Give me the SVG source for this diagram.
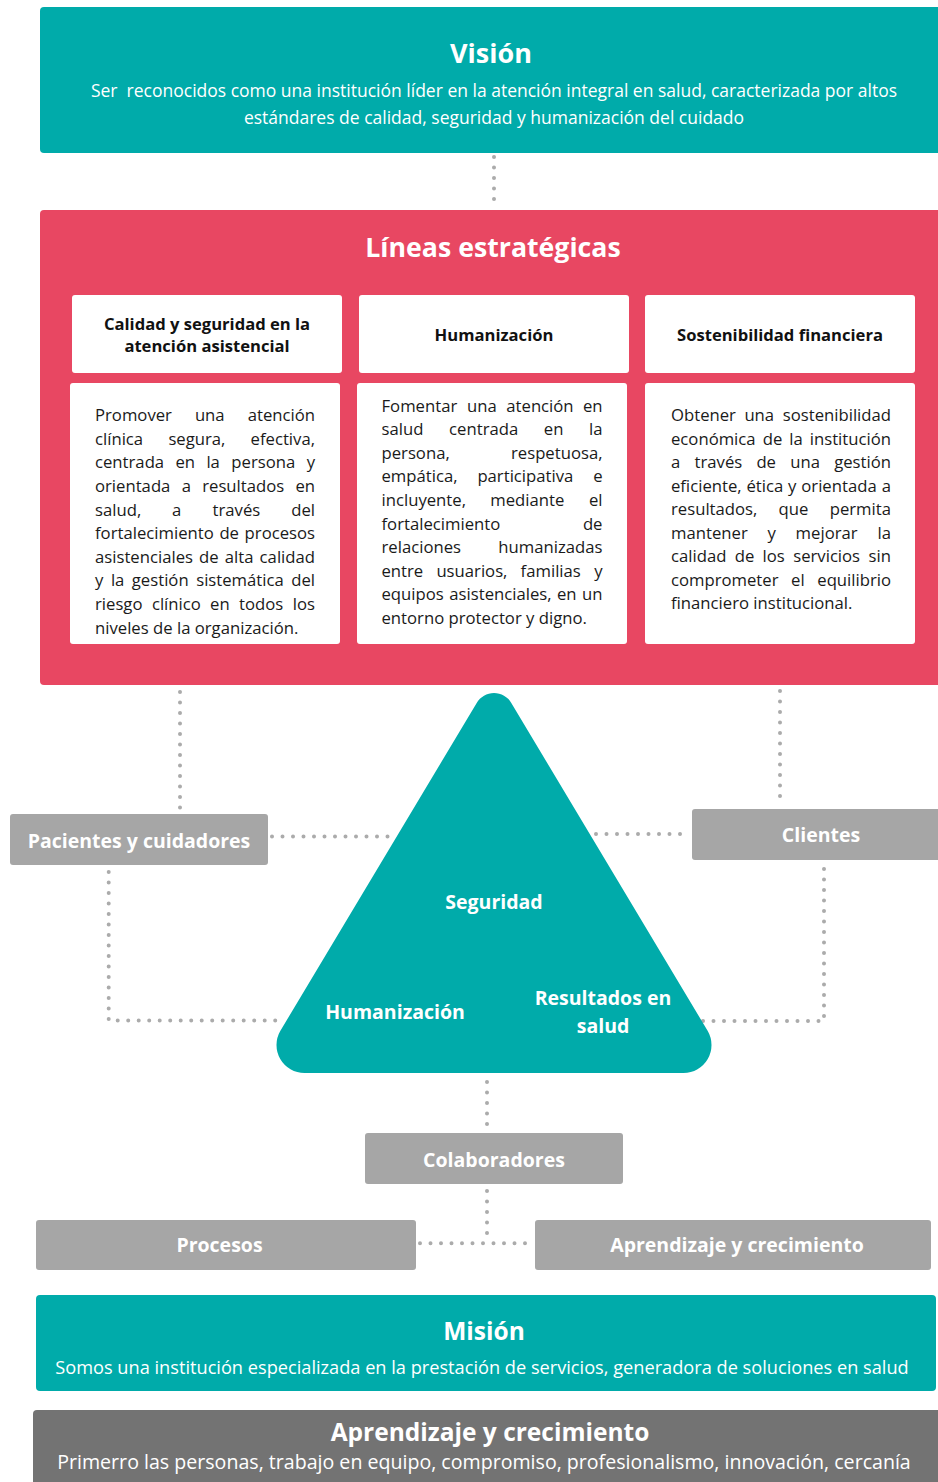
<svg xmlns="http://www.w3.org/2000/svg" width="938" height="1482" viewBox="0 0 938 1482">
<style>
text{font-family:'Open Sans','Liberation Sans',sans-serif}
.title{font-size:26px;font-weight:700;fill:#fff;text-anchor:middle}
.sub{font-size:17.5px;fill:#fff;text-anchor:middle}
.hdr{font-size:16.6px;font-weight:700;fill:#111;text-anchor:middle}
.body{font-size:16.7px;fill:#1a1a1a}
.e{text-anchor:end}
.lbl{font-size:19.5px;font-weight:700;fill:#fff;text-anchor:middle}
.teal{fill:#00ABAA}
.pink{fill:#E84762}
.gray{fill:#A6A6A6}
.white{fill:#fff}
.dot{stroke:#ABABAB;stroke-width:4;stroke-linecap:round;stroke-dasharray:0 10.5;fill:none}
</style>
<g id="connectors">
<path class="dot" d="M494 157V208"/>
<path class="dot" d="M180 692V811"/>
<path class="dot" d="M272 836.5H398"/>
<path class="dot" d="M108.7 872V1020.5H285"/>
<path class="dot" d="M780 691V801"/>
<path class="dot" d="M596 834H690"/>
<path class="dot" d="M824 869V1021H702"/>
<path class="dot" d="M487 1082V1131"/>
<path class="dot" d="M487 1191V1240"/>
<path class="dot" d="M420 1243.3H533"/>
</g>
<g id="vision">
<rect class="teal" x="40" y="7" width="904" height="146" rx="4"/>
<text class="title" x="491" y="63" style="font-size:27px">Visión</text>
<text class="sub" x="494" y="97" xml:space="preserve">Ser  reconocidos como una institución líder en la atención integral en salud, caracterizada por altos</text>
<text class="sub" x="494" y="124">estándares de calidad, seguridad y humanización del cuidado</text>
</g>
<g id="lineas">
<rect class="pink" x="40" y="210" width="904" height="475" rx="4"/>
<text class="title" x="493" y="257" style="font-size:26.7px">Líneas estratégicas</text>
</g>
<g id="h-calidad">
<rect class="white" x="72" y="295" width="270" height="78" rx="3"/>
<text class="hdr" x="207" y="330">Calidad y seguridad en la</text>
<text class="hdr" x="207" y="351.5">atención asistencial</text>
</g>
<g id="h-humanizacion">
<rect class="white" x="359" y="295" width="270" height="78" rx="3"/>
<text class="hdr" x="494" y="341">Humanización</text>
</g>
<g id="h-sostenibilidad">
<rect class="white" x="645" y="295" width="270" height="78" rx="3"/>
<text class="hdr" x="780" y="341">Sostenibilidad financiera</text>
</g>
<g id="b-calidad">
<rect class="white" x="70" y="383" width="270" height="261" rx="3"/>
<text class="body" y="421.2"><tspan x="95">Promover</tspan><tspan x="194.9">una</tspan><tspan x="315" class="e">atención</tspan></text>
<text class="body" y="444.8"><tspan x="95">clínica</tspan><tspan x="168.4">segura,</tspan><tspan x="315" class="e">efectiva,</tspan></text>
<text class="body" y="468.4"><tspan x="95">centrada</tspan><tspan x="175.5">en</tspan><tspan x="206.4">la</tspan><tspan x="231.3">persona</tspan><tspan x="315" class="e">y</tspan></text>
<text class="body" y="492"><tspan x="95">orientada</tspan><tspan x="181.7">a</tspan><tspan x="202.2">resultados</tspan><tspan x="315" class="e">en</tspan></text>
<text class="body" y="515.6"><tspan x="95">salud,</tspan><tspan x="172.1">a</tspan><tspan x="212.5">través</tspan><tspan x="315" class="e">del</tspan></text>
<text class="body" y="539.2"><tspan x="95">fortalecimiento</tspan><tspan x="219.4">de</tspan><tspan x="315" class="e">procesos</tspan></text>
<text class="body" y="562.8"><tspan x="95">asistenciales</tspan><tspan x="199.1">de</tspan><tspan x="224.8">alta</tspan><tspan x="315" class="e">calidad</tspan></text>
<text class="body" y="586.4"><tspan x="95">y</tspan><tspan x="110.9">la</tspan><tspan x="131.8">gestión</tspan><tspan x="196.2">sistemática</tspan><tspan x="315" class="e">del</tspan></text>
<text class="body" y="610"><tspan x="95">riesgo</tspan><tspan x="151.9">clínico</tspan><tspan x="210.1">en</tspan><tspan x="239">todos</tspan><tspan x="315" class="e">los</tspan></text>
<text class="body" x="95" y="633.6">niveles de la organización.</text>
</g>
<g id="b-humanizacion">
<rect class="white" x="357" y="383" width="270" height="261" rx="3"/>
<text class="body" y="411.5"><tspan x="381.5">Fomentar</tspan><tspan x="467.1">una</tspan><tspan x="506.3">atención</tspan><tspan x="602.5" class="e">en</tspan></text>
<text class="body" y="435.1"><tspan x="381.5">salud</tspan><tspan x="449.1">centrada</tspan><tspan x="543.8">en</tspan><tspan x="602.5" class="e">la</tspan></text>
<text class="body" y="458.7"><tspan x="381.5">persona,</tspan><tspan x="602.5" class="e">respetuosa,</tspan></text>
<text class="body" y="482.3"><tspan x="381.5">empática,</tspan><tspan x="477.4">participativa</tspan><tspan x="602.5" class="e">e</tspan></text>
<text class="body" y="505.9"><tspan x="381.5">incluyente,</tspan><tspan x="490.3">mediante</tspan><tspan x="602.5" class="e">el</tspan></text>
<text class="body" y="529.5"><tspan x="381.5">fortalecimiento</tspan><tspan x="602.5" class="e">de</tspan></text>
<text class="body" y="553.1"><tspan x="381.5">relaciones</tspan><tspan x="602.5" class="e">humanizadas</tspan></text>
<text class="body" y="576.7"><tspan x="381.5">entre</tspan><tspan x="436.4">usuarios,</tspan><tspan x="520.6">familias</tspan><tspan x="602.5" class="e">y</tspan></text>
<text class="body" y="600.3"><tspan x="381.5">equipos</tspan><tspan x="449.3">asistenciales,</tspan><tspan x="556.9">en</tspan><tspan x="602.5" class="e">un</tspan></text>
<text class="body" x="381.5" y="623.9">entorno protector y digno.</text>
</g>
<g id="b-sostenibilidad">
<rect class="white" x="645" y="383" width="270" height="261" rx="3"/>
<text class="body" y="421.2"><tspan x="671">Obtener</tspan><tspan x="744.4">una</tspan><tspan x="891" class="e">sostenibilidad</tspan></text>
<text class="body" y="444.7"><tspan x="671">económica</tspan><tspan x="762.7">de</tspan><tspan x="789.3">la</tspan><tspan x="891" class="e">institución</tspan></text>
<text class="body" y="468.2"><tspan x="671">a</tspan><tspan x="694.5">través</tspan><tspan x="756.4">de</tspan><tspan x="790.2">una</tspan><tspan x="891" class="e">gestión</tspan></text>
<text class="body" y="491.7"><tspan x="671">eficiente,</tspan><tspan x="746.4">ética</tspan><tspan x="788">y</tspan><tspan x="801.3">orientada</tspan><tspan x="891" class="e">a</tspan></text>
<text class="body" y="515.2"><tspan x="671">resultados,</tspan><tspan x="778.5">que</tspan><tspan x="891" class="e">permita</tspan></text>
<text class="body" y="538.7"><tspan x="671">mantener</tspan><tspan x="767.5">y</tspan><tspan x="795.6">mejorar</tspan><tspan x="891" class="e">la</tspan></text>
<text class="body" y="562.2"><tspan x="671">calidad</tspan><tspan x="734.7">de</tspan><tspan x="762.6">los</tspan><tspan x="793.2">servicios</tspan><tspan x="891" class="e">sin</tspan></text>
<text class="body" y="585.7"><tspan x="671">comprometer</tspan><tspan x="791.1">el</tspan><tspan x="891" class="e">equilibrio</tspan></text>
<text class="body" x="671" y="609.2">financiero institucional.</text>
</g>
<g id="triangulo">
<path class="teal" d="M476.7 703L280.25 1031A28 28 0 0 0 304.5 1073L683.5 1073A28 28 0 0 0 707.75 1031L511.3 703A20 20 0 0 0 476.7 703Z"/>
<text class="lbl" x="494" y="909">Seguridad</text>
<text class="lbl" x="395" y="1019">Humanización</text>
<text class="lbl" x="603" y="1005">Resultados en</text>
<text class="lbl" x="603" y="1033">salud</text>
</g>
<g id="pacientes">
<rect class="gray" x="10" y="814" width="258" height="51" rx="3"/>
<text class="lbl" x="139" y="847.5">Pacientes y cuidadores</text>
</g>
<g id="clientes">
<rect class="gray" x="692" y="809" width="252" height="51" rx="3"/>
<text class="lbl" x="821" y="842">Clientes</text>
</g>
<g id="colaboradores">
<rect class="gray" x="365" y="1133" width="258" height="51" rx="3"/>
<text class="lbl" x="494" y="1166.5">Colaboradores</text>
</g>
<g id="procesos">
<rect class="gray" x="36" y="1220" width="380" height="50" rx="3"/>
<text class="lbl" x="219.5" y="1251.5">Procesos</text>
</g>
<g id="aprendizaje">
<rect class="gray" x="535" y="1220" width="396" height="50" rx="3"/>
<text class="lbl" x="737" y="1251.5">Aprendizaje y crecimiento</text>
</g>
<g id="mision">
<rect class="teal" x="36" y="1295" width="900" height="96" rx="4"/>
<text class="title" x="484" y="1340" style="font-size:24.5px">Misión</text>
<text class="sub" x="482" y="1374" style="font-size:18.2px">Somos una institución especializada en la prestación de servicios, generadora de soluciones en salud</text>
</g>
<g id="valores">
<rect x="33" y="1410" width="911" height="80" rx="4" fill="#737373"/>
<text class="title" x="490" y="1441" style="font-size:24.5px">Aprendizaje y crecimiento</text>
<text class="sub" x="484" y="1469" style="font-size:19.6px">Primerro las personas, trabajo en equipo, compromiso, profesionalismo, innovación, cercanía</text>
</g>
</svg>
